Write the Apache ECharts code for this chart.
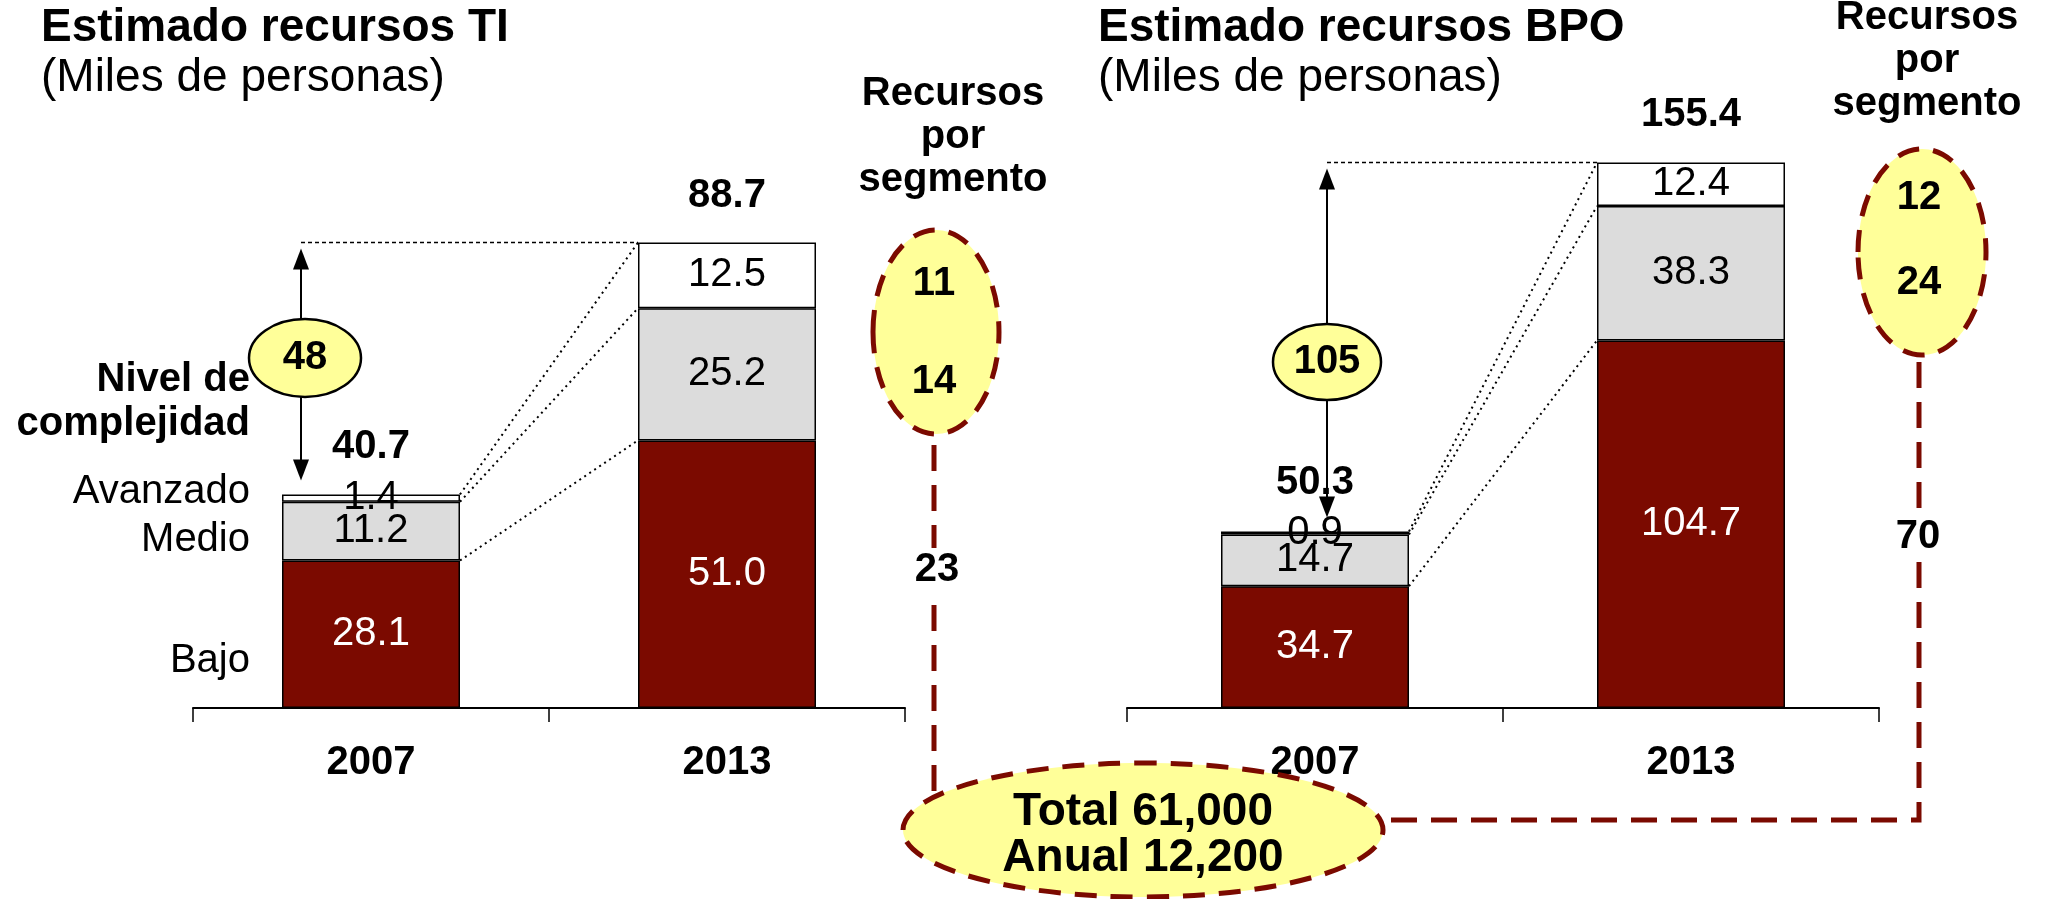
<!DOCTYPE html>
<html>
<head>
<meta charset="utf-8">
<script src="https://cdn.jsdelivr.net/npm/echarts@6/dist/echarts.min.js"></script>
<style>
  html, body { margin: 0; padding: 0; background: #fff; }
  #main { width: 2045px; height: 899px; }
</style>
</head>
<body>
<div id="main"></div>
<script>
// datos (miles de personas)
var categories = ['2007', '2013'];
var tiBajo = [28.1, 51.0];
var tiMedio = [11.2, 25.2];
var tiAvanzado = [1.4, 12.5];
var tiTotal = [40.7, 88.7];
var bpoBajo = [34.7, 104.7];
var bpoMedio = [14.7, 38.3];
var bpoAvanzado = [0.9, 12.4];
var bpoTotal = [50.3, 155.4];
// crecimiento y recursos por segmento
var tiCrecimiento = 48, bpoCrecimiento = 105;
var tiSegmento = [11, 14, 23];
var bpoSegmento = [12, 24, 70];
var totalTexto = ['Total 61,000', 'Anual 12,200'];
var nivelesTexto = ['Avanzado', 'Medio', 'Bajo'];

var FONT = 'Liberation Sans, Arial, Helvetica, sans-serif';
var ROJO = '#7B0A00', GRIS = '#DCDCDC', AMARILLO = '#FFFF99';

function barra(name, data, g, color, labelColor) {
    return {
        name: name, type: 'bar', stack: 'g' + g,
        xAxisIndex: g, yAxisIndex: g,
        barWidth: '50%', data: data,
        itemStyle: { color: color, borderColor: '#000', borderWidth: 1.5, opacity: 1 },
        label: {
            show: true, position: 'inside', color: labelColor,
            fontSize: 40, fontFamily: FONT,
            formatter: function (p) { return p.value.toFixed(1); }
        }
    };
}
function totales(data, g, dy) {
    return {
        type: 'scatter', xAxisIndex: g, yAxisIndex: g,
        data: data, symbolSize: 1, z: 5,
        itemStyle: { color: 'rgba(0,0,0,0)', opacity: 1 },
        label: {
            show: true, position: 'inside', offset: [0, dy],
            color: '#000', opacity: 1, fontSize: 40, fontWeight: 'bold', fontFamily: FONT,
            formatter: function (p) { return p.value.toFixed(1); }
        }
    };
}
function ejeX(g) {
    return {
        gridIndex: g, type: 'category', data: categories,
        axisLine: { show: true, lineStyle: { color: '#000', width: 2 } },
        axisTick: { show: true, alignWithLabel: false, interval: 0, inside: false, length: 14,
            lineStyle: { color: '#000', width: 1.5 } },
        axisLabel: { fontSize: 40, fontWeight: 'bold', color: '#000', margin: 35, fontFamily: FONT }
    };
}

var chart = echarts.init(document.getElementById('main'));
chart.setOption({
    animation: false,
    backgroundColor: '#fff',
    grid: [
        { left: 193, top: 178, width: 712, height: 530, outerBoundsMode: 'none' },
        { left: 1127, top: 146.4, width: 752, height: 561.6, outerBoundsMode: 'none' }
    ],
    xAxis: [ejeX(0), ejeX(1)],
    yAxis: [
        { gridIndex: 0, type: 'value', min: 0, max: 101, show: false },
        { gridIndex: 1, type: 'value', min: 0, max: 160, show: false }
    ],
    series: [
        barra('Bajo', tiBajo, 0, ROJO, '#fff'),
        barra('Medio', tiMedio, 0, GRIS, '#000'),
        barra('Avanzado', tiAvanzado, 0, '#fff', '#000'),
        totales(tiTotal, 0, -47),
        barra('Bajo', bpoBajo, 1, ROJO, '#fff'),
        barra('Medio', bpoMedio, 1, GRIS, '#000'),
        barra('Avanzado', bpoAvanzado, 1, '#fff', '#000'),
        totales(bpoTotal, 1, -48)
    ]
});

function px(g, i, v) {
    return chart.convertToPixel({ xAxisIndex: g, yAxisIndex: g }, [categories[i], v]);
}
function texto(t, x, y, size, bold, align, bg) {
    return {
        type: 'text', z: 30,
        style: {
            text: t, x: x, y: y, fill: '#000',
            fontSize: size, fontWeight: bold ? 'bold' : 'normal', fontFamily: FONT,
            align: align || 'center', verticalAlign: 'middle',
            backgroundColor: bg || null, padding: bg ? [2, 2] : 0
        }
    };
}
function elipse(cx, cy, rx, ry, discontinua) {
    return {
        type: 'ellipse', z: 20,
        shape: { cx: cx, cy: cy, rx: rx, ry: ry },
        style: discontinua
            ? { fill: AMARILLO, stroke: ROJO, lineWidth: 5, lineDash: [22, 14] }
            : { fill: AMARILLO, stroke: '#000', lineWidth: 2.5 }
    };
}
// lineas de serie punteadas, flecha de crecimiento
function conectores(g, bajo, medio, total, dx) {
    var c0 = px(g, 0, 0), c1 = px(g, 1, 0);
    var half = (c1[0] - c0[0]) * 0.25;
    var niveles = [
        [bajo[0], bajo[1]],
        [bajo[0] + medio[0], bajo[1] + medio[1]],
        [total[0], total[1]]
    ];
    var els = niveles.map(function (n) {
        return {
            type: 'line', z: 10,
            shape: { x1: c0[0] + half, y1: px(g, 0, n[0])[1], x2: c1[0] - half, y2: px(g, 1, n[1])[1] },
            style: { stroke: '#000', lineWidth: 2, lineDash: [2, 4] }
        };
    });
    var x = c0[0] + dx;
    var yTop = px(g, 1, total[1])[1];
    var yBot = px(g, 0, total[0])[1];
    els.push({
        type: 'line', z: 10,
        shape: { x1: x, y1: yTop, x2: c1[0] - half, y2: yTop },
        style: { stroke: '#000', lineWidth: 1.5, lineDash: [4, 3] }
    });
    var t = yTop + 6, b = yBot - 14;
    els.push({ type: 'line', z: 12, shape: { x1: x, y1: t + 10, x2: x, y2: b - 10 }, style: { stroke: '#000', lineWidth: 2 } });
    els.push({ type: 'polygon', z: 12, shape: { points: [[x, t], [x - 8, t + 21], [x + 8, t + 21]] }, style: { fill: '#000' } });
    els.push({ type: 'polygon', z: 12, shape: { points: [[x, b], [x - 8, b - 21], [x + 8, b - 21]] }, style: { fill: '#000' } });
    return els;
}

var els = [];
els = els.concat(conectores(0, tiBajo, tiMedio, tiTotal, -70));
els = els.concat(conectores(1, bpoBajo, bpoMedio, bpoTotal, 12));

// titulos
els.push(texto('Estimado recursos TI', 41, 28, 46, true, 'left'));
els.push(texto('(Miles de personas)', 41, 78, 46, false, 'left'));
els.push(texto('Estimado recursos BPO', 1098, 28, 46, true, 'left'));
els.push(texto('(Miles de personas)', 1098, 78, 46, false, 'left'));

// etiquetas de nivel
els.push(texto('Nivel de', 250, 380, 40, true, 'right'));
els.push(texto('complejidad', 250, 424, 40, true, 'right'));
els.push(texto(nivelesTexto[0], 250, 492, 40, false, 'right'));
els.push(texto(nivelesTexto[1], 250, 540, 40, false, 'right'));
els.push(texto(nivelesTexto[2], 250, 661, 40, false, 'right'));

// recursos por segmento
['Recursos', 'por', 'segmento'].forEach(function (t, i) {
    els.push(texto(t, 953, 94 + i * 43, 40, true));
    els.push(texto(t, 1927, 18 + i * 43, 40, true));
});

// crecimiento
els.push(elipse(305, 358, 56, 39, false));
els.push(texto(String(tiCrecimiento), 305, 358, 40, true));
els.push(elipse(1327, 362, 54, 38, false));
els.push(texto(String(bpoCrecimiento), 1327, 362, 40, true));

// lineas discontinuas hacia el total
els.push({ type: 'polyline', z: 15, shape: { points: [[934, 445], [934, 830]] },
    style: { stroke: ROJO, lineWidth: 5, lineDash: [26, 14], fill: null } });
els.push({ type: 'polyline', z: 15, shape: { points: [[1919, 362], [1919, 820], [1300, 820]] },
    style: { stroke: ROJO, lineWidth: 5, lineDash: [26, 14], fill: null } });
els.push(texto(String(tiSegmento[2]), 937, 570, 40, true, 'center', '#fff'));
els.push(texto(String(bpoSegmento[2]), 1918, 537, 40, true, 'center', '#fff'));

els.push(elipse(936, 332, 63, 102, true));
els.push(texto(String(tiSegmento[0]), 934, 284, 40, true));
els.push(texto(String(tiSegmento[1]), 934, 382, 40, true));
els.push(elipse(1922, 252, 64, 103, true));
els.push(texto(String(bpoSegmento[0]), 1919, 198, 40, true));
els.push(texto(String(bpoSegmento[1]), 1919, 283, 40, true));

els.push(elipse(1143, 830, 240, 67, true));
els.push(texto(totalTexto[0], 1143, 812, 46, true));
els.push(texto(totalTexto[1], 1143, 858, 46, true));

chart.setOption({ graphic: { elements: els } });
</script>
</body>
</html>
